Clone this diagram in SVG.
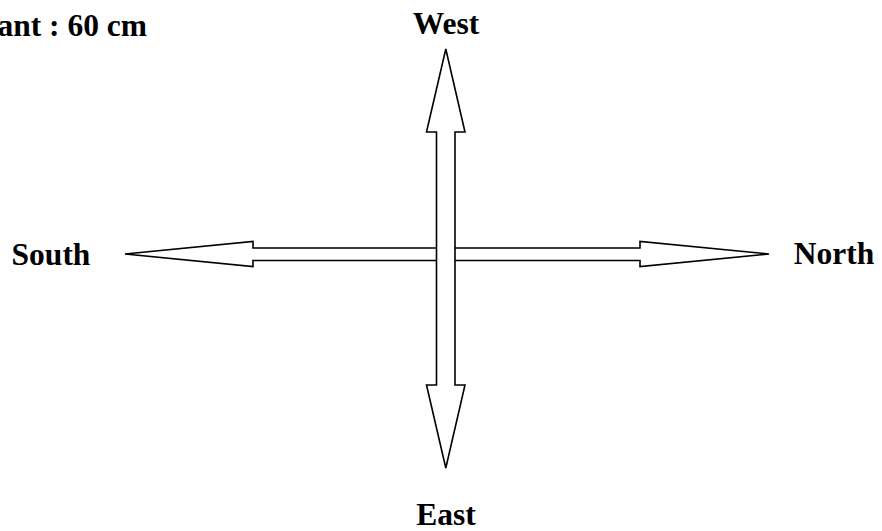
<svg xmlns="http://www.w3.org/2000/svg" width="882" height="531" viewBox="0 0 882 531">
<style>
.lbl{font-family:"Liberation Serif","Times New Roman",serif;font-weight:bold;font-size:31.5px;fill:#000}
.arr{fill:#fff;stroke:#000;stroke-width:1.6;stroke-linejoin:miter}
</style>
<rect width="882" height="531" fill="#fff"/>
<g id="connectors">
<polygon class="arr" points="125,254 253,241.5 253,248 640,248 640,241.5 769,254 640,266.5 640,260.5 253,260.5 253,266.5"/>
<polygon class="arr" points="445.8,49 465,132 455,132 455,385 465,385 445.8,468 426.5,385 436.5,385 436.5,132 426.5,132"/>
</g>
<g id="title"><text class="lbl" x="147" y="36" text-anchor="end">ant : 60 cm</text></g>
<g id="west"><text class="lbl" x="446" y="34" text-anchor="middle">West</text></g>
<g id="east"><text class="lbl" x="446" y="525" text-anchor="middle">East</text></g>
<g id="south"><text class="lbl" x="51" y="265" text-anchor="middle">South</text></g>
<g id="north"><text class="lbl" x="834" y="264" text-anchor="middle">North</text></g>
</svg>
